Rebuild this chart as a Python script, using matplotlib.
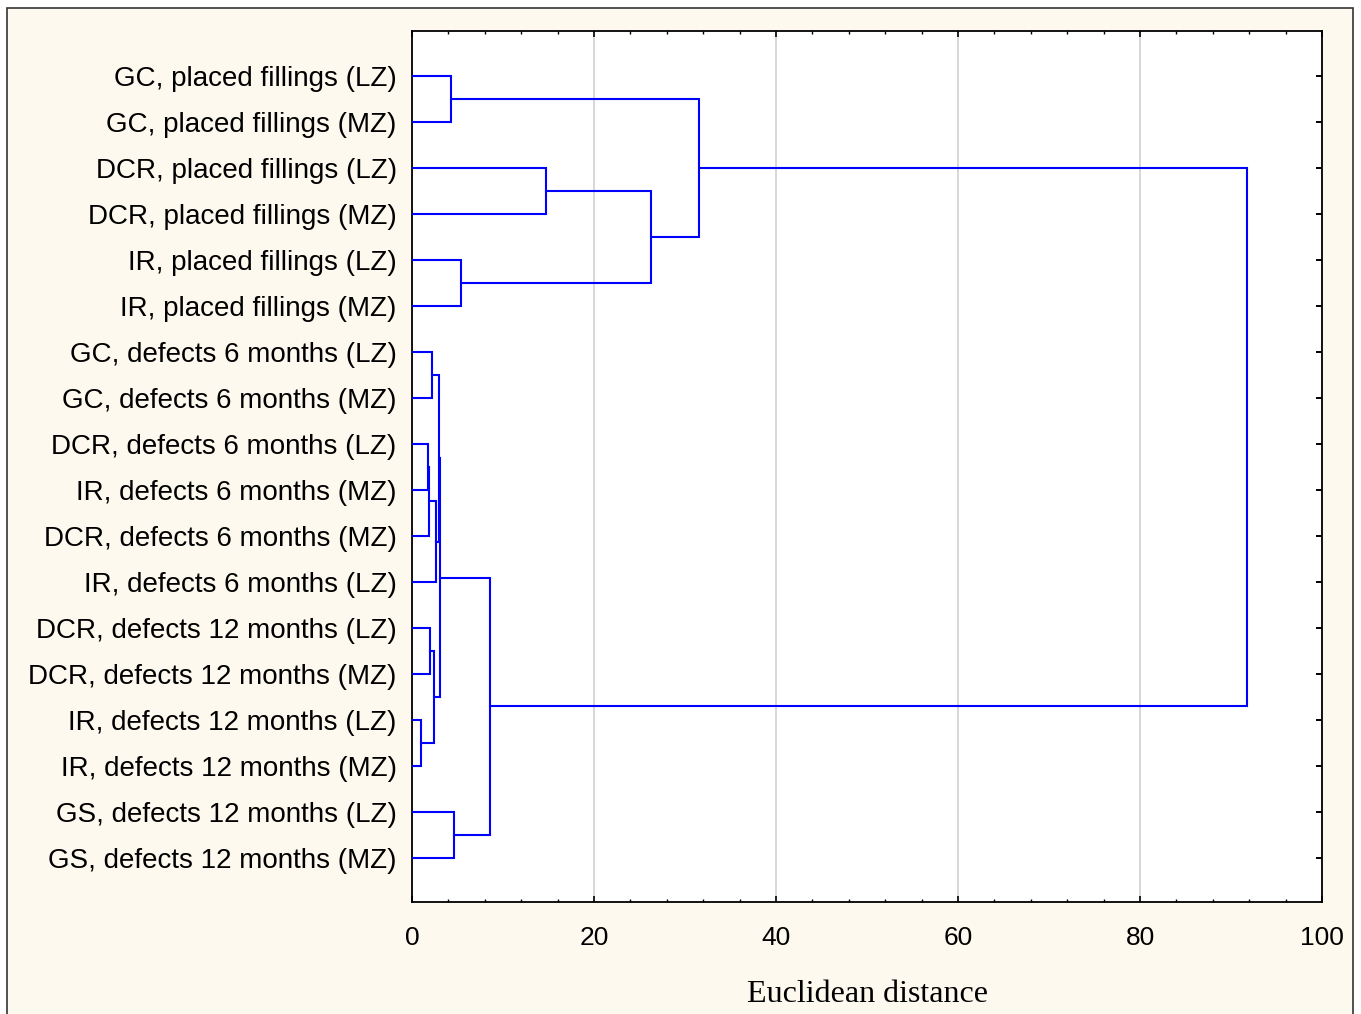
#!/usr/bin/env python3

import matplotlib
matplotlib.use('Agg')
import matplotlib.pyplot as plt
from matplotlib.patches import Rectangle
from matplotlib.ticker import MultipleLocator

# leaves in display order (top to bottom)
labels = [
    'GC, placed fillings (LZ)',
    'GC, placed fillings (MZ)',
    'DCR, placed fillings (LZ)',
    'DCR, placed fillings (MZ)',
    'IR, placed fillings (LZ)',
    'IR, placed fillings (MZ)',
    'GC, defects 6 months (LZ)',
    'GC, defects 6 months (MZ)',
    'DCR, defects 6 months (LZ)',
    'IR, defects 6 months (MZ)',
    'DCR, defects 6 months (MZ)',
    'IR, defects 6 months (LZ)',
    'DCR, defects 12 months (LZ)',
    'DCR, defects 12 months (MZ)',
    'IR, defects 12 months (LZ)',
    'IR, defects 12 months (MZ)',
    'GS, defects 12 months (LZ)',
    'GS, defects 12 months (MZ)',
]

# linkage: new cluster ids start at len(labels), scipy style
left_ids = [0, 2, 4, 19, 18, 6, 8, 24, 25, 23, 12, 14, 28, 27, 16, 31, 22]
right_ids = [1, 3, 5, 20, 21, 7, 9, 10, 11, 26, 13, 15, 29, 30, 17, 32, 33]
heights = [4.33, 14.77, 5.43, 26.3, 31.5, 2.2, 1.76, 1.87, 2.6, 2.97,
           1.98, 1.03, 2.4, 3.08, 4.6, 8.6, 91.7]

xticks = [0, 20, 40, 60, 80, 100]

cream = '#fdf9ee'
blue = '#0000ff'


def main():
    fig = plt.figure(figsize=(13.61, 10.14), dpi=100)
    fig.patch.set_facecolor('white')
    fig.patches.append(Rectangle((0.0055, -0.01), 0.9886, 1.0026,
                                 transform=fig.transFigure, facecolor=cream,
                                 edgecolor='#333333', linewidth=1.2, zorder=-10))

    ax = fig.add_axes([0.3027, 0.1105, 0.6687, 0.8589])
    ax.set_facecolor('white')

    pos = {i: float(i) for i in range(len(labels))}
    hgt = {i: 0.0 for i in range(len(labels))}
    n = len(labels)
    for k, (a, b, h) in enumerate(zip(left_ids, right_ids, heights)):
        ax.plot([hgt[a], h, h, hgt[b]], [pos[a], pos[a], pos[b], pos[b]],
                color=blue, lw=1.5, solid_joinstyle='miter', zorder=3)
        pos[n + k] = (pos[a] + pos[b]) / 2
        hgt[n + k] = h

    ax.set_xlim(0, 100)
    ax.set_ylim(17.96, -0.98)
    ax.set_xticks(xticks)
    ax.xaxis.set_minor_locator(MultipleLocator(4))
    ax.set_yticks(range(n))
    ax.set_yticklabels(labels, family='Liberation Sans', fontsize=20)
    for t in ax.get_xticklabels():
        t.set_family('Liberation Sans')
        t.set_fontsize(19)

    ax.tick_params(axis='x', which='major', direction='in', top=True,
                   length=4, width=1.2, pad=17)
    ax.tick_params(axis='x', which='minor', direction='in', top=True,
                   length=2.5, width=1)
    ax.tick_params(axis='y', direction='in', right=True, length=4.5,
                   width=1.4, pad=11)
    ax.grid(axis='x', which='major', color='#d4d4d4', lw=1.3, zorder=0)
    for s in ax.spines.values():
        s.set_linewidth(1.3)

    ax.set_xlabel('Euclidean distance', family='Liberation Serif',
                  fontsize=23, labelpad=22)

    fig.savefig('out.png', dpi=100)


if __name__ == '__main__':
    main()
